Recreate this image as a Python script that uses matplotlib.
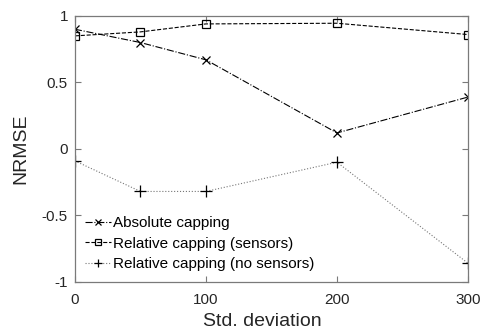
import numpy as np
import matplotlib
matplotlib.use('Agg')
import matplotlib.pyplot as plt

std_dev = [0, 50, 100, 200, 300]
absolute = [0.90, 0.80, 0.67, 0.12, 0.39]
rel_sensors = [0.85, 0.88, 0.94, 0.945, 0.86]
rel_nosensors = [-0.09, -0.32, -0.32, -0.10, -0.86]

xticks = [0, 100, 200, 300]
yticks = [-1, -0.5, 0, 0.5, 1]
ytick_labels = ['-1', '-0.5', '0', '0.5', '1']

plt.rcParams['font.family'] = ['Liberation Sans', 'DejaVu Sans']
axcolor = '#7a7a7a'
txtcolor = '#262626'

fig = plt.figure(figsize=(4.8, 3.32), dpi=100)
ax = fig.add_axes([0.156, 0.151, 0.819, 0.801])

ax.plot(std_dev, absolute, color='black', linestyle='-.', linewidth=0.8,
        marker='x', markersize=6, markeredgewidth=0.9, label='Absolute capping')
ax.plot(std_dev, rel_sensors, color='black', linestyle='--', linewidth=0.8,
        marker='s', markersize=6, markerfacecolor='none', markeredgewidth=0.9,
        label='Relative capping (sensors)')
ax.plot(std_dev, rel_nosensors, color='#777777', linestyle=':', linewidth=0.8,
        marker='+', markersize=8, markeredgewidth=0.9, markeredgecolor='black',
        label='Relative capping (no sensors)')

ax.set_xlim(0, 300)
ax.set_ylim(-1, 1)
ax.set_xticks(xticks)
ax.set_yticks(yticks)
ax.set_yticklabels(ytick_labels)
ax.tick_params(direction='in', top=True, right=True, length=4, width=0.8,
               color=axcolor, labelsize=11, labelcolor=txtcolor)
ax.tick_params(axis='x', pad=8)
ax.tick_params(axis='y', pad=5)
for spine in ax.spines.values():
    spine.set_color(axcolor)
    spine.set_linewidth(0.9)

ax.set_xlabel('Std. deviation', fontsize=14, color=txtcolor)
ax.xaxis.set_label_coords(0.476, -0.118, transform=ax.transAxes)
ax.xaxis.label.set_verticalalignment('top')
ax.set_ylabel('NRMSE', fontsize=14, color=txtcolor, labelpad=9)

ax.legend(loc='lower left', bbox_to_anchor=(0.025, 0.04), frameon=False,
          fontsize=11, handlelength=1.7, handletextpad=0.15,
          labelspacing=0.42, borderaxespad=0, borderpad=0, markerscale=0.7)

fig.savefig('out.png', dpi=100)
